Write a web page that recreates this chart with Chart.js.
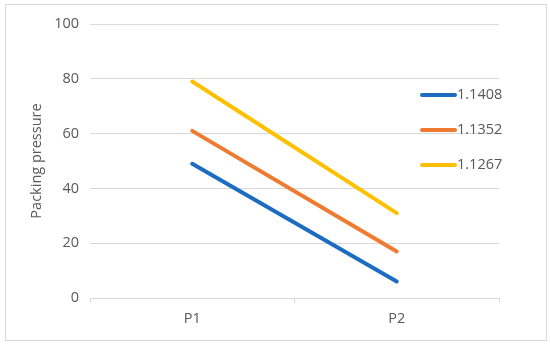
<!DOCTYPE html>
<html>
<head>
<meta charset="utf-8">
<script src="https://cdn.jsdelivr.net/npm/chart.js@4/dist/chart.umd.min.js"></script>
<style>
  html, body { margin: 0; padding: 0; background: #fff; }
  #wrap { position: relative; width: 550px; height: 346px; }
  #frame { position: absolute; left: 5px; top: 4px; width: 540px; height: 335px; border: 1px solid #d9d9d9; pointer-events: none; }
  canvas { position: absolute; left: 0; top: 0; }
</style>
</head>
<body>
<div id="wrap">
  <canvas id="chart" width="550" height="346"></canvas>
  <div id="frame"></div>
</div>
<script>
// categories and series
const categories = ['P1', 'P2'];
const seriesNames = ['1.1408', '1.1352', '1.1267'];
const s1408 = [49, 6];
const s1352 = [61, 17];
const s1267 = [79, 31];
const yTicks = [0, 20, 40, 60, 80, 100];

const colors = ['#1c6cc1', '#ee7b30', '#ffc000'];
const textColor = '#595959';
const gridColor = '#d9d9d9';
const fontFamily = "'Open Sans', 'Liberation Sans', sans-serif";

// legend drawn at the right, like the Excel original
const sideLegend = {
    id: 'sideLegend',
    afterDraw(chart) {
        const ctx = chart.ctx;
        ctx.save();
        chart.data.datasets.forEach((ds, i) => {
            const y = 95 + i * 35;
            ctx.strokeStyle = ds.borderColor;
            ctx.lineWidth = 4;
            ctx.lineCap = 'round';
            ctx.beginPath();
            ctx.moveTo(422, y);
            ctx.lineTo(455, y);
            ctx.stroke();
            ctx.fillStyle = textColor;
            ctx.font = '14.5px ' + fontFamily;
            ctx.textBaseline = 'middle';
            ctx.textAlign = 'left';
            ctx.fillText(ds.label, 457, y);
        });
        ctx.restore();
    }
};

new Chart(document.getElementById('chart').getContext('2d'), {
    type: 'line',
    data: {
        labels: categories,
        datasets: [s1408, s1352, s1267].map((values, i) => ({
            label: seriesNames[i],
            data: values,
            borderColor: colors[i],
            backgroundColor: colors[i],
            borderWidth: 4,
            borderCapStyle: 'round',
            pointRadius: 0,
            tension: 0
        }))
    },
    options: {
        responsive: false,
        animation: false,
        events: [],
        layout: { padding: { top: 24, right: 51, bottom: 0, left: 0 } },
        plugins: {
            legend: { display: false },
            tooltip: { enabled: false }
        },
        scales: {
            x: {
                offset: true,
                afterFit(scale) { scale.height = 48; },
                grid: {
                    offset: true,
                    drawOnChartArea: false,
                    drawTicks: true,
                    tickLength: 5,
                    color: gridColor
                },
                border: { color: gridColor, width: 1 },
                ticks: {
                    color: textColor,
                    font: { family: fontFamily, size: 14.5 },
                    padding: 7
                }
            },
            y: {
                min: 0,
                max: 100,
                afterFit(scale) { scale.width = 90; },
                afterBuildTicks(scale) { scale.ticks = yTicks.map(v => ({ value: v })); },
                grid: { color: gridColor, drawTicks: false },
                border: { display: false },
                ticks: {
                    color: textColor,
                    font: { family: fontFamily, size: 14.5 },
                    padding: 11
                },
                title: {
                    display: true,
                    text: 'Packing pressure',
                    color: textColor,
                    font: { family: fontFamily, size: 14.5 },
                    padding: { top: 28, bottom: 0 }
                }
            }
        }
    },
    plugins: [sideLegend]
});
</script>
</body>
</html>
